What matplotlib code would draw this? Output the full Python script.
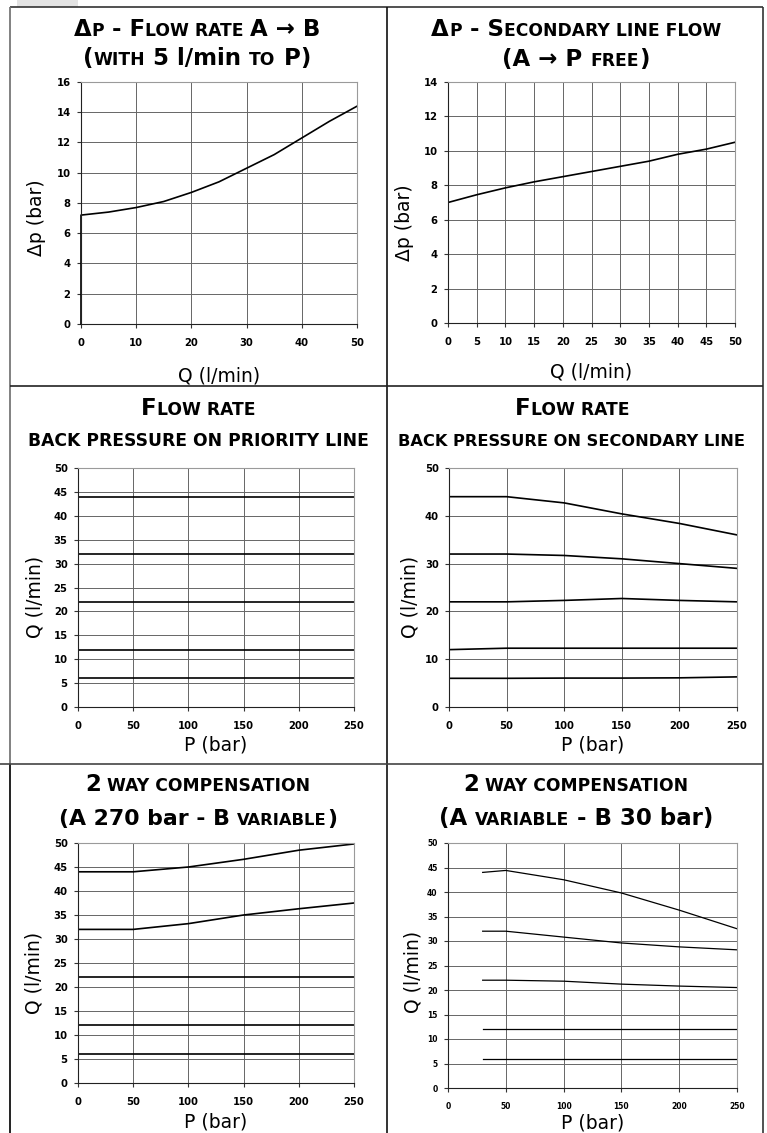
import matplotlib
matplotlib.use('Agg')
import matplotlib.pyplot as plt
from matplotlib.lines import Line2D
from matplotlib.patches import Rectangle
from matplotlib.transforms import IdentityTransform

# ---------------- data ----------------
tl_q = [0, 0, 5, 10, 15, 20, 25, 30, 35, 40, 45, 50]
tl_dp = [0, 7.2, 7.4, 7.7, 8.1, 8.7, 9.4, 10.3, 11.2, 12.3, 13.4, 14.4]

tr_q = [0, 5, 10, 15, 20, 25, 30, 35, 40, 45, 50]
tr_dp = [7.0, 7.45, 7.85, 8.2, 8.5, 8.8, 9.1, 9.4, 9.8, 10.1, 10.5]

ml_p = [0, 250]
ml_q = [[44, 44], [32, 32], [22, 22], [12, 12], [6, 6]]

mr_p = [0, 50, 100, 150, 200, 250]
mr_q = [[44.0, 44.0, 42.7, 40.4, 38.4, 36.0],
        [32.0, 32.0, 31.7, 31.0, 30.0, 29.0],
        [22.0, 22.0, 22.3, 22.7, 22.3, 22.0],
        [12.0, 12.3, 12.3, 12.3, 12.3, 12.3],
        [6.0, 6.0, 6.05, 6.05, 6.1, 6.3]]

bl_p = [0, 50, 100, 150, 200, 250]
bl_q = [[44.0, 44.0, 45.0, 46.6, 48.5, 49.8],
        [32.0, 32.0, 33.2, 35.0, 36.3, 37.5],
        [22.0, 22.0, 22.0, 22.0, 22.0, 22.0],
        [12.0, 12.0, 12.0, 12.0, 12.0, 12.0],
        [6.0, 6.0, 6.0, 6.0, 6.0, 6.0]]

br_p = [30, 50, 100, 150, 200, 250]
br_q = [[44.0, 44.4, 42.5, 39.8, 36.3, 32.5],
        [32.0, 32.0, 30.8, 29.6, 28.8, 28.2],
        [22.0, 22.0, 21.8, 21.2, 20.8, 20.5],
        [12.0, 12.0, 12.0, 12.0, 12.0, 12.0],
        [6.0, 6.0, 6.0, 6.0, 6.0, 6.0]]

xticks_q10 = [0, 10, 20, 30, 40, 50]
xticks_q5 = [0, 5, 10, 15, 20, 25, 30, 35, 40, 45, 50]
yticks_dp16 = [0, 2, 4, 6, 8, 10, 12, 14, 16]
yticks_dp14 = [0, 2, 4, 6, 8, 10, 12, 14]
xticks_p = [0, 50, 100, 150, 200, 250]
yticks_q5 = [0, 5, 10, 15, 20, 25, 30, 35, 40, 45, 50]
yticks_q10 = [0, 10, 20, 30, 40, 50]

# ---------------- figure ----------------
W, H = 767, 1133
fig = plt.figure(figsize=(W / 100, H / 100), dpi=100)
fig.patch.set_facecolor('white')
FAM = 'DejaVu Sans'


def px_axes(L, T, R, B):
    return fig.add_axes([L / W, 1 - B / H, (R - L) / W, (B - T) / H])


def style(ax, xlim, ylim, xticks, yticks, L, T, R, B, xlab, ylab, xlab_y, ylab_x, ylab_y,
          tick_fs=7.2, lab_fs=13.5):
    ax.set_xlim(xlim)
    ax.set_ylim(ylim)
    ax.set_xticks(xticks)
    ax.set_yticks(yticks)
    ax.grid(True, color='#666666', lw=0.7)
    ax.set_axisbelow(True)
    for s in ['left', 'bottom']:
        ax.spines[s].set_color('#222222')
        ax.spines[s].set_linewidth(0.8)
    for s in ['top', 'right']:
        ax.spines[s].set_color('#9a9a9a')
        ax.spines[s].set_linewidth(0.8)
    ax.tick_params(axis='both', direction='out', length=3, width=0.8, color='#333333',
                   labelsize=tick_fs)
    ax.tick_params(axis='x', pad=7)
    ax.tick_params(axis='y', pad=4.5)
    for lab in ax.get_xticklabels() + ax.get_yticklabels():
        lab.set_fontweight('bold')
        lab.set_family(FAM)
    ax.set_xlabel(xlab, fontsize=lab_fs, family=FAM, va='center', ha='center')
    ax.set_ylabel(ylab, fontsize=lab_fs, family=FAM, va='center', ha='center')
    ax.xaxis.set_label_coords(0.5, (B - xlab_y) / (B - T))
    ax.yaxis.set_label_coords((ylab_x - L) / (R - L), (B - ylab_y) / (B - T))


renderer = fig.canvas.get_renderer()


def text_w(s, size):
    t1 = fig.text(0, 0, s + '|', fontsize=size, fontweight='bold', family=FAM)
    w1 = t1.get_window_extent(renderer).width
    t1.remove()
    t2 = fig.text(0, 0, '|', fontsize=size, fontweight='bold', family=FAM)
    w2 = t2.get_window_extent(renderer).width
    t2.remove()
    return w1 - w2


def title_line(xc, yc, segs, big, small, scale=1.0):
    sizes = [(big if b else small) * scale for _, b in segs]
    widths = [text_w(s, sz) for (s, _), sz in zip(segs, sizes)]
    total = sum(widths)
    x = xc - total / 2
    cap = 0.729 * max(sizes) * 100 / 72
    base = H - (yc + cap / 2)
    for (s, _), sz, wd in zip(segs, sizes, widths):
        fig.text(x, base, s, fontsize=sz, fontweight='bold', family=FAM,
                 ha='left', va='baseline', transform=IdentityTransform())
        x += wd


BIG, SMALL = 16.5, 12.3

# ---- top-left ----
L, T, R, B = 81, 82, 357, 324
ax = px_axes(L, T, R, B)
ax.plot(tl_q, tl_dp, color='black', lw=1.2, clip_on=False)
style(ax, (0, 50), (0, 16), xticks_q10, yticks_dp16, L, T, R, B,
      'Q (l/min)', 'Δp (bar)', 376, 37, 218)
title_line(197, 27.5, [('Δ', 1), ('P', 0), (' - F', 1), ('LOW RATE ', 0), ('A → B', 1)], BIG, SMALL)
title_line(197, 57, [('(', 1), ('WITH', 0), (' 5 l/min ', 1), ('TO', 0), (' P)', 1)], BIG, SMALL)

# ---- top-right ----
L, T, R, B = 448, 82, 735, 323
ax = px_axes(L, T, R, B)
ax.plot(tr_q, tr_dp, color='black', lw=1.2)
style(ax, (0, 50), (0, 14), xticks_q5, yticks_dp14, L, T, R, B,
      'Q (l/min)', 'Δp (bar)', 372, 405, 223)
title_line(576, 27.5, [('Δ', 1), ('P', 0), (' - S', 1), ('ECONDARY LINE FLOW', 0)], BIG, SMALL)
title_line(576, 58, [('(A → P ', 1), ('FREE', 0), (')', 1)], BIG, SMALL)

# ---- middle-left ----
L, T, R, B = 78, 468, 354, 707
ax = px_axes(L, T, R, B)
for q in ml_q:
    ax.plot(ml_p, q, color='black', lw=1.2)
style(ax, (0, 250), (0, 50), xticks_p, yticks_q5, L, T, R, B,
      'P (bar)', 'Q (l/min)', 745, 35, 597)
title_line(198, 407, [('F', 1), ('LOW RATE', 0)], BIG, SMALL)
title_line(198, 440, [('BACK PRESSURE ON PRIORITY LINE', 0)], BIG, SMALL)

# ---- middle-right ----
L, T, R, B = 449, 468, 737, 707
ax = px_axes(L, T, R, B)
for q in mr_q:
    ax.plot(mr_p, q, color='black', lw=1.2)
style(ax, (0, 250), (0, 50), xticks_p, yticks_q10, L, T, R, B,
      'P (bar)', 'Q (l/min)', 745, 410, 597)
title_line(572, 407, [('F', 1), ('LOW RATE', 0)], BIG, SMALL)
title_line(572, 440, [('BACK PRESSURE ON SECONDARY LINE', 0)], BIG, SMALL, scale=0.95)

# ---- bottom-left ----
L, T, R, B = 78, 843, 354, 1083
ax = px_axes(L, T, R, B)
for q in bl_q:
    ax.plot(bl_p, q, color='black', lw=1.2)
style(ax, (0, 250), (0, 50), xticks_p, yticks_q5, L, T, R, B,
      'P (bar)', 'Q (l/min)', 1122, 34, 973)
title_line(198, 783, [('2', 1), (' WAY COMPENSATION', 0)], BIG, SMALL)
title_line(198, 817, [('(A 270 bar - B ', 1), ('VARIABLE', 0), (')', 1)], BIG, SMALL, scale=0.96)

# ---- bottom-right ----
L, T, R, B = 448, 843, 737, 1088
ax = px_axes(L, T, R, B)
for q in br_q:
    ax.plot(br_p, q, color='black', lw=0.9)
style(ax, (0, 250), (0, 50), xticks_p, yticks_q5, L, T, R, B,
      'P (bar)', 'Q (l/min)', 1123, 413, 972, tick_fs=5.5)
title_line(576, 783, [('2', 1), (' WAY COMPENSATION', 0)], BIG, SMALL)
title_line(576, 817, [('(A ', 1), ('VARIABLE', 0), (' - B 30 bar)', 1)], BIG, SMALL)

# ---------------- frame lines ----------------
def fline(x0, y0, x1, y1, color, lw):
    fig.add_artist(Line2D([x0 / W, x1 / W], [1 - y0 / H, 1 - y1 / H],
                          transform=fig.transFigure, color=color, lw=lw,
                          solid_capstyle='butt'))


fig.add_artist(Rectangle((17 / W, 1 - 7 / H), 61 / W, 7 / H, transform=fig.transFigure,
                         facecolor='#e3e3e3', edgecolor='none'))
fline(10, 7, 763, 7, '#333333', 1.2)
fline(10, 7, 10, 764, '#777777', 1.3)
fline(10, 764, 10, 1133, '#111111', 1.3)
fline(387, 7, 387, 1133, '#111111', 1.2)
fline(763, 7, 763, 1133, '#333333', 1.2)
fline(10, 386, 763, 386, '#222222', 1.2)
fline(0, 764, 763, 764, '#444444', 1.2)

fig.savefig('out.png', dpi=100, facecolor='white')
